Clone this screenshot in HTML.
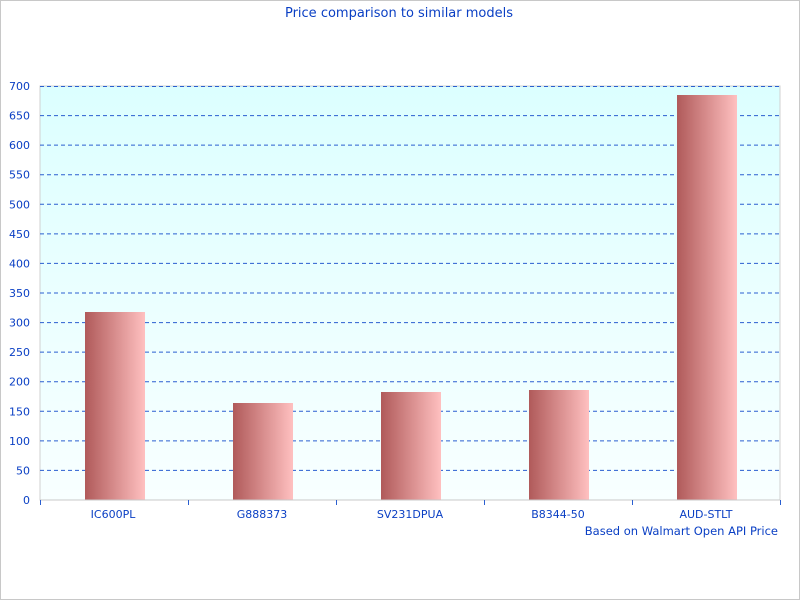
<!DOCTYPE html>
<html><head><style>body{margin:0;background:#fff}svg{display:block}</style></head><body>
<svg width="800" height="600" xmlns="http://www.w3.org/2000/svg" font-family="DejaVu Sans, sans-serif" font-size="11" fill="#0a3fc4">
<defs>
<linearGradient id="bg" x1="0" y1="0" x2="0" y2="1"><stop offset="0" stop-color="#dcffff"/><stop offset="1" stop-color="#f8ffff"/></linearGradient>
<linearGradient id="bar" x1="0" y1="0" x2="1" y2="0"><stop offset="0" stop-color="#b05a5a"/><stop offset="1" stop-color="#ffc0c0"/></linearGradient>
</defs>
<rect x="0.5" y="0.5" width="799" height="599" fill="#fff" stroke="#c8c8c8"/>
<text x="399" y="17" text-anchor="middle" font-size="13">Price comparison to similar models</text>
<rect x="40" y="86" width="740" height="414" fill="url(#bg)" stroke="#d0d0d0"/>
<g stroke="#2a5fd0" stroke-dasharray="4,3" stroke-width="1">
<line x1="40" x2="780" y1="470.4" y2="470.4"/><line x1="40" x2="780" y1="440.9" y2="440.9"/><line x1="40" x2="780" y1="411.3" y2="411.3"/><line x1="40" x2="780" y1="381.7" y2="381.7"/><line x1="40" x2="780" y1="352.1" y2="352.1"/><line x1="40" x2="780" y1="322.6" y2="322.6"/><line x1="40" x2="780" y1="293" y2="293"/><line x1="40" x2="780" y1="263.4" y2="263.4"/><line x1="40" x2="780" y1="233.9" y2="233.9"/><line x1="40" x2="780" y1="204.3" y2="204.3"/><line x1="40" x2="780" y1="174.7" y2="174.7"/><line x1="40" x2="780" y1="145.1" y2="145.1"/><line x1="40" x2="780" y1="115.6" y2="115.6"/><line x1="40" x2="780" y1="86.5" y2="86.5"/>
</g>
<rect x="85" y="312" width="60" height="188" fill="url(#bar)"/>
<rect x="233" y="403" width="60" height="97" fill="url(#bar)"/>
<rect x="381" y="392" width="60" height="108" fill="url(#bar)"/>
<rect x="529" y="390" width="60" height="110" fill="url(#bar)"/>
<rect x="677" y="95" width="60" height="405" fill="url(#bar)"/>
<line x1="40" x2="780" y1="500" y2="500" stroke="#c8c8c8"/>
<g stroke="#2a5fd0"><line x1="40.5" x2="40.5" y1="500" y2="505"/><line x1="188.5" x2="188.5" y1="500" y2="505"/><line x1="336.5" x2="336.5" y1="500" y2="505"/><line x1="484.5" x2="484.5" y1="500" y2="505"/><line x1="632.5" x2="632.5" y1="500" y2="505"/><line x1="780.5" x2="780.5" y1="500" y2="505"/></g>
<g text-anchor="end">
<text x="30" y="504">0</text><text x="30" y="474.4">50</text><text x="30" y="444.9">100</text><text x="30" y="415.3">150</text><text x="30" y="385.7">200</text><text x="30" y="356.1">250</text><text x="30" y="326.6">300</text><text x="30" y="297">350</text><text x="30" y="267.4">400</text><text x="30" y="237.9">450</text><text x="30" y="208.3">500</text><text x="30" y="178.7">550</text><text x="30" y="149.1">600</text><text x="30" y="119.6">650</text><text x="30" y="90">700</text>
</g>
<g text-anchor="middle">
<text x="113" y="518">IC600PL</text><text x="262" y="518">G888373</text><text x="410" y="518">SV231DPUA</text><text x="558" y="518">B8344-50</text><text x="706" y="518">AUD-STLT</text>
</g>
<text x="778" y="535" text-anchor="end" font-size="11.5">Based on Walmart Open API Price</text>
</svg>
</body></html>
